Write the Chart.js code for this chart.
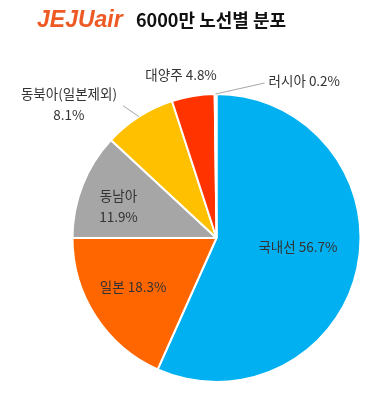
<!DOCTYPE html>
<html>
<head>
<meta charset="utf-8">
<script src="https://cdn.jsdelivr.net/npm/chart.js@4"></script>
<style>
  html, body { margin: 0; padding: 0; background: #fff; }
  #wrap { width: 377px; height: 396px; }
</style>
</head>
<body>
<div id="wrap"><canvas id="chartRutas" width="377" height="396"></canvas></div>
<script>
// datos del gráfico
const categories = ['국내선', '일본', '동남아', '동북아(일본제외)', '대양주', '러시아'];
const shares = [56.7, 18.3, 11.9, 8.1, 4.8, 0.2];
const sliceColors = ['#00B0F0', '#FF6600', '#A6A6A6', '#FFC000', '#FF3300', '#5B9BD5'];
const logoText = 'JEJUair';
const titleText = '6000만 노선별 분포';

// posición de cada etiqueta respecto al sector
const labelStyles = [
    { inside: true, dx: 11, dy: -6, twoLines: false },
    { inside: true, dx: -23, dy: 10, twoLines: false },
    { inside: true, dx: -31, dy: -6, twoLines: true },
    { inside: false, lx: -16, ly: -11, tx: -70, ty: -13, align: 'center', twoLines: true },
    { inside: false, lx: 0, ly: 0, tx: -12, ty: -21, align: 'center', twoLines: false },
    { inside: false, lx: 49, ly: -11, tx: 53, ty: -13, align: 'left', twoLines: false }
];

const labelFont = '13.5px "Noto Sans CJK KR", sans-serif';

const titlePlugin = {
    id: 'titlePlugin',
    afterDraw(chart) {
        const ctx = chart.ctx;
        ctx.save();
        ctx.textBaseline = 'alphabetic';
        ctx.textAlign = 'left';
        ctx.fillStyle = '#EE5A24';
        ctx.font = 'italic bold 23px "Liberation Sans", sans-serif';
        ctx.fillText(logoText, 37, 27);
        ctx.fillStyle = '#111';
        ctx.font = 'bold 18px "Noto Sans CJK KR", sans-serif';
        ctx.fillText(titleText, 136, 27);
        ctx.restore();
    }
};

const sliceLabelsPlugin = {
    id: 'sliceLabels',
    afterDatasetsDraw(chart) {
        const ctx = chart.ctx;
        const meta = chart.getDatasetMeta(0);
        ctx.save();
        ctx.font = labelFont;
        ctx.fillStyle = '#333';
        ctx.textBaseline = 'middle';
        meta.data.forEach((arc, i) => {
            const st = labelStyles[i];
            const p = arc.getProps(['x', 'y', 'startAngle', 'endAngle', 'outerRadius'], true);
            const mid = (p.startAngle + p.endAngle) / 2;
            const pct = shares[i].toFixed(1) + '%';
            let cx, cy;
            if (st.inside) {
                const pos = arc.tooltipPosition(true);
                cx = pos.x + st.dx;
                cy = pos.y + st.dy;
                ctx.textAlign = 'center';
            } else {
                const ex = p.x + Math.cos(mid) * p.outerRadius;
                const ey = p.y + Math.sin(mid) * p.outerRadius;
                if (st.lx || st.ly) {
                    ctx.strokeStyle = '#A6A6A6';
                    ctx.lineWidth = 1;
                    ctx.beginPath();
                    ctx.moveTo(ex, ey);
                    ctx.lineTo(ex + st.lx, ey + st.ly);
                    ctx.stroke();
                }
                cx = ex + st.tx;
                cy = ey + st.ty;
                ctx.textAlign = st.align;
            }
            if (st.twoLines) {
                ctx.fillText(categories[i], cx, cy - 10);
                ctx.fillText(pct, cx, cy + 11);
            } else {
                ctx.fillText(categories[i] + ' ' + pct, cx, cy);
            }
        });
        ctx.restore();
    }
};

const ctxRutas = document.getElementById('chartRutas').getContext('2d');
new Chart(ctxRutas, {
    type: 'pie',
    data: {
        labels: categories,
        datasets: [{
            data: shares,
            backgroundColor: sliceColors,
            borderColor: '#fff',
            borderWidth: 2
        }]
    },
    options: {
        responsive: false,
        animation: false,
        events: [],
        layout: {
            padding: { left: 71.5, right: 15.5, top: 93, bottom: 13 }
        },
        plugins: {
            legend: { display: false },
            title: { display: false },
            tooltip: { enabled: false }
        }
    },
    plugins: [sliceLabelsPlugin, titlePlugin]
});
</script>
</body>
</html>
